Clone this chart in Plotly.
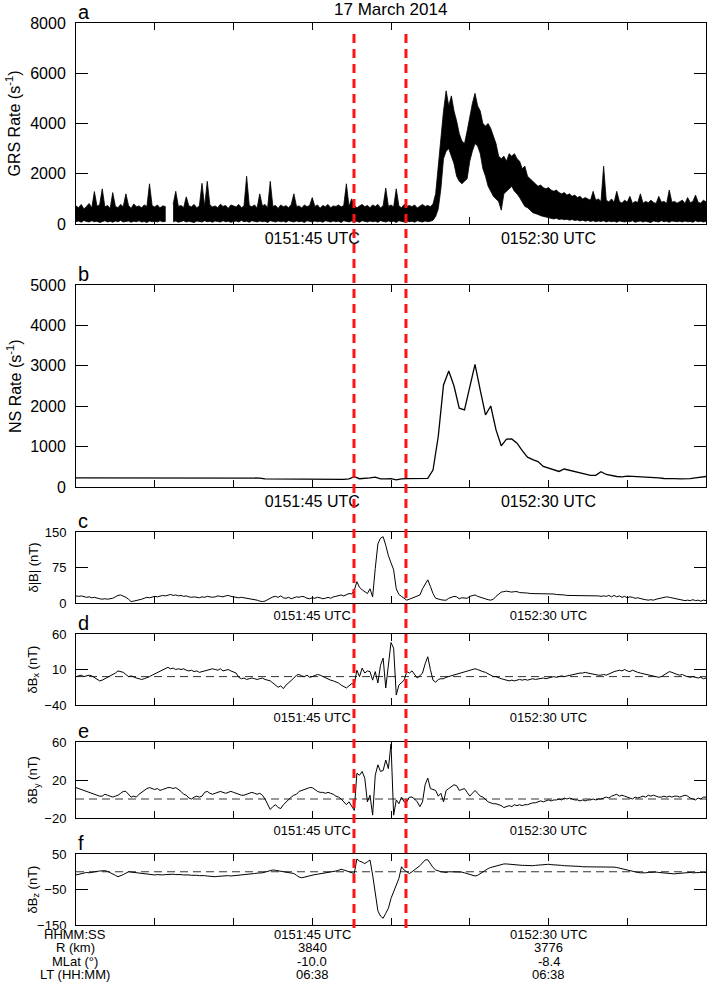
import numpy as np
import plotly.graph_objects as go

# time axis: seconds after 0151:00 UTC, 17 March 2014
GRS_STEP = 0.5   # s
NS_STEP = 1.0    # s
MAG_STEP = 0.5   # s

# GRS count rate: upper and lower edge of the dense (noisy) trace, per 0.5 s
grs_upper = [
    720, 650, 780, 600, 700, 820, 640, 1290, 710, 760,
    1400, 680, 740, 620, 1250, 700, 650, 780, 690, 1200,
    740, 620, 800, 690, 720, 650, 760, 700, 1600, 730,
    680, 760, 640, 720, 700, None, None, 780, 1300, 700,
    740, 650, 1080, 720, 690, 780, 640, 730, 1620, 700,
    1700, 760, 680, 720, 650, 790, 700, 740, 620, 760,
    710, 680, 780, 650, 720, 1900, 740, 690, 760, 640,
    1200, 720, 780, 650, 1700, 700, 740, 620, 760, 690,
    730, 650, 780, 1200, 700, 720, 640, 760, 690, 740,
    1050, 700, 760, 630, 740, 690, 780, 650, 720, 700,
    760, 680, 740, 1600, 700, 1000, 760, 640, 720, 780,
    690, 740, 650, 760, 700, 780, 640, 730, 1430, 700,
    760, 680, 1400, 720, 650, 780, 700, 740, 690, 760,
    640, 720, 780, 700, 740, 690, 800, 1200, 2300, 3600,
    4500, 5300, 4700, 5100, 4500, 4100, 3600, 3300, 3200, 3700,
    4300, 4800, 5200, 4700, 4500, 4000, 3900, 4000, 3800, 3500,
    3200, 2700, 2600, 2700, 2500, 2800, 2700, 2800, 2600, 2500,
    2200, 2300, 1900, 1800, 1700, 1600, 1500, 1550, 1450, 1400,
    1450, 1350, 1300, 1350, 1250, 1200, 1250, 1150, 1200, 1100,
    1150, 1050, 1100, 1000, 1050, 1000, 950, 1300, 950, 1000,
    900, 2300, 950, 880, 1000, 870, 1300, 900, 830, 950,
    870, 1100, 820, 900, 860, 1200, 830, 900, 850, 950,
    860, 820, 1100, 870, 900, 820, 1350, 870, 900, 830,
    880, 950, 820, 1050, 850, 900, 1150, 870, 830, 950,
    880,
]
grs_lower = [
    90, 120, 70, 140, 100, 80, 130, 90, 110, 60,
    100, 130, 80, 110, 70, 120, 90, 140, 80, 100,
    120, 70, 110, 90, 130, 80, 100, 60, 120, 90,
    110, 80, 130, 90, 100, None, None, 90, 120, 70,
    100, 130, 80, 110, 90, 60, 120, 100, 80, 130,
    90, 110, 70, 120, 100, 80, 130, 90, 110, 70,
    100, 120, 80, 140, 90, 110, 70, 130, 100, 80,
    120, 90, 110, 60, 130, 100, 80, 120, 90, 110,
    70, 130, 100, 80, 120, 90, 110, 60, 130, 100,
    80, 120, 90, 110, 70, 130, 100, 80, 120, 90,
    110, 60, 130, 100, 80, 120, 90, 110, 70, 130,
    100, 80, 120, 90, 110, 70, 130, 100, 80, 120,
    90, 110, 60, 130, 100, 80, 120, 90, 110, 70,
    130, 100, 80, 120, 90, 110, 150, 300, 600, 1400,
    2600, 2900, 3000, 2700, 2400, 1900, 1700, 1600, 1700, 1800,
    2500, 2900, 3200, 3100, 2800, 2200, 1900, 1500, 1300, 1100,
    1000, 900, 550, 1200, 1300, 1400, 1500, 1300, 1200, 1050,
    900, 700, 650, 550, 450, 400, 380, 330, 300, 280,
    250, 220, 200, 230, 180, 200, 170, 190, 150, 180,
    140, 160, 120, 150, 110, 140, 100, 130, 90, 120,
    100, 130, 80, 120, 90, 110, 70, 120, 100, 80,
    110, 90, 130, 70, 100, 120, 80, 110, 90, 60,
    120, 100, 80, 130, 90, 110, 70, 120, 100, 90,
    110, 80, 120, 90, 100, 70, 130, 90, 110, 80,
    100,
]

ns_rate = [
    228, 228, 229, 228, 228, 229, 228, 228, 228, 229,
    228, 228, 229, 229, 228, 228, 229, 228, 228, 229,
    229, 229, 228, 229, 229, 230, 229, 229, 230, 229,
    229, 230, 229, 229, 228, 222, 200, 198, 199, 197,
    200, 205, 198, 195, 198, 193, 190, 191, 190, 192,
    190, 188, 200, 255, 205, 210, 225, 245, 200, 200,
    205, 175, 200, 205, 205, 210, 212, 215, 420, 1250,
    2525, 2870, 2500, 1950, 1910, 2470, 3035, 2400, 1785, 2005,
    1415, 1020, 1185, 1190, 1085, 900, 740, 680, 630, 510,
    470, 430, 385, 445, 410, 380, 345, 310, 287, 290,
    378, 310, 280, 260, 250, 270, 262, 255, 250, 240,
    245, 225, 210, 215, 205, 200, 198, 205, 225, 240,
    260,
]

dB_total = [
    15, 14, 15, 13, 12, 13, 11, 12, 10, 9,
    8, 9, 8, 9, 10, 13, 16, 17, 15, 12,
    8, 3, 4, 5, 6, 8, 10, 12, 11, 13,
    14, 13, 15, 16, 15, 17, 18, 16, 17, 15,
    16, 14, 15, 13, 12, 13, 12, 11, 13, 12,
    14, 13, 12, 13, 15, 14, 13, 15, 16, 14,
    13, 12, 11, 12, 11, 11, 10, 9, 7, 6,
    4, 3, 4, 7, 10, 13, 14, 12, 15, 11,
    10, 12, 9, 11, 13, 12, 14, 13, 10, 9,
    11, 10, 12, 11, 9, 10, 12, 10, 13, 14,
    16, 17, 15, 18, 20, 19, 27, 45, 33, 28,
    24, 20, 30, 13, 73, 125, 137, 140, 122, 100,
    85, 70, 30, 18, 14, 10, 6, 8, 10, 12,
    14, 17, 30, 40, 49, 35, 20, 10, 8, 7,
    6, 6, 10, 12, 14, 13, 9, 11, 10, 10,
    14, 15, 17, 14, 12, 10, 8, 7, 6, 8,
    14, 19, 23, 24, 25, 24, 23, 24, 24, 22,
    22, 21, 21, 20, 20, 20, 19, 20, 20, 19,
    20, 19, 19, 18, 18, 17, 17, 16, 16, 16,
    15, 15, 15, 15, 15, 15, 15, 16, 15, 15,
    14, 15, 14, 16, 13, 16, 13, 15, 12, 14,
    11, 13, 12, 10, 11, 9, 8, 7, 6, 7,
    6, 8, 9, 11, 12, 13, 12, 11, 10, 8,
    7, 6, 5, 6, 5, 7, 5, 6, 4, 6,
    5,
]

dBx = [
    0, 1, 2, 0, 1, 2, 1, -1, -3, -6,
    -5, -3, -1, 0, 2, 5, 8, 7, 6, 3,
    0, 1, -1, -2, -3, -4, -3, -2, 0, 2,
    4, 6, 8, 10, 12, 13, 11, 12, 10, 11,
    10, 11, 9, 8, 9, 7, 8, 6, 7, 8,
    9, 10, 11, 10, 9, 11, 8, 9, 10, 8,
    7, 5, -1, -3, -2, -4, -3, -2, -3, -4,
    -3, -2, -4, -5, -6, -9, -12, -15, -13, -17,
    -12, -9, -6, -2, 2, 3, 1, 0, 2, -1,
    0, 1, 3, 2, 0, -1, -3, -5, -6, -7,
    -9, -12, -14, -16, -13, -10, -11, 9, 0, 12,
    5, 8, 7, -5, 7, -9, 16, 26, -16, 16,
    48, 40, -26, -12, -8, -5, 7, 5, 8, 3,
    -2, 1, 5, 18, 28, 10, -5, -8, -4, -3,
    -3, -1, 0, 2, 2, 3, 5, 6, 7, 8,
    9, 9, 11, 10, 8, 7, 6, 4, 2, 0,
    0, -2, -3, -4, -5, -6, -5, -6, -5, -4,
    -5, -4, -5, -4, -3, -4, -3, -2, -2, -3,
    -2, -1, 0, -1, 0, 1, 0, 1, 2, 3,
    3, 4, 5, 5, 6, 5, 4, 4, 3, 2,
    2, 3, 2, 4, 5, 7, 8, 9, 8, 10,
    8, 7, 9, 7, 6, 5, 4, 4, 3, 2,
    1, 0, -1, 0, 2, 5, 7, 6, 4, 3,
    2, 3, 1, 0, -1, 0, -1, -2, -1, -3,
    -2,
]

dBy = [
    12, 11, 10, 9, 8, 7, 6, 5, 4, 3,
    3, 5, 4, 3, 2, 3, 4, 6, 8, 8,
    5, 2, 3, 2, 5, 7, 9, 11, 12, 11,
    10, 11, 9, 10, 11, 12, 12, 11, 12, 10,
    8, 5, 4, 1, 0, 2, 3, 2, 3, 7,
    8, 6, 5, 6, 7, 8, 7, 6, 7, 8,
    7, 6, 5, 4, 4, 5, 6, 7, 6, 5,
    6, 4, 0, -5, -11, -8, -6, -9, -10, -6,
    -3, 0, 2, 4, 5, 8, 9, 10, 11, 12,
    12, 10, 8, 7, 7, 6, 7, 6, 5, 3,
    2, 0, -3, -6, -3, -8, -12, 27, 25, 29,
    22, -3, 4, -17, 25, 36, 29, 30, 41, 32,
    58, -17, -1, -5, 2, -3, -3, 2, 2, 0,
    -3, -8, -3, 15, 22, 11, 10, 9, 3, 6,
    -3, 9, 11, 13, 15, 14, 9, 10, 11, 7,
    3, 6, 9, 6, 3, 2, -1, -3, -4, -5,
    -5, -6, -7, -9, -8, -7, -8, -6, -7, -6,
    -7, -6, -6, -5, -4, -4, -3, -2, -3, -2,
    -1, -2, -1, -1, 0, -1, 1, 0, 1, 0,
    -1, -1, -2, -1, -2, -1, -1, 0, -1, 0,
    0, 1, 2, 1, 3, 4, 5, 3, 4, 3,
    2, 1, 0, 2, 1, 2, 3, 2, 4, 3,
    4, 3, 2, 2, 3, 2, 3, 2, 3, 3,
    2, 3, 4, 3, 1, 0, -1, 1, 0, 2,
    2,
]

dBz = [
    -9, -7, -5, -3, -2, -3, -1, 0, 1, 2,
    3, 3, 1, -2, -6, -10, -14, -12, -8, -4,
    0, -1, -2, -3, -4, -5, -5, -6, -7, -8,
    -9, -8, -9, -9, -8, -7, -8, -7, -8, -7,
    -8, -9, -8, -9, -10, -9, -10, -11, -10, -11,
    -12, -13, -12, -14, -13, -12, -13, -12, -11, -12,
    -11, -12, -11, -10, -9, -8, -7, -6, -5, -4,
    -4, -3, -1, 1, 3, 5, 4, 3, 2, 0,
    -1, -2, -2, -5, -10, -15, -17, -15, -12, -10,
    -9, -8, -7, -6, -5, -3, -2, -1, 0, 2,
    4, 7, 5, 2, 0, -3, -5, 36, 30, 27,
    23, 28, 33, -9, -56, -110, -125, -131, -117, -103,
    -75, -56, -33, -19, 14, 5, 0, -5, 0, 5,
    10, 17, 25, 33, 34, 23, 12, 5, 2, 0,
    -1, -2, 0, 0, -1, 1, 0, -1, -3, -5,
    -8, -10, -12, -10, -5, 0, 5, 9, 12, 14,
    17, 19, 21, 22, 22, 21, 20, 19, 19, 18,
    18, 18, 17, 17, 17, 18, 19, 20, 20, 21,
    21, 20, 20, 19, 18, 18, 17, 17, 17, 16,
    16, 15, 15, 14, 14, 14, 14, 15, 14, 14,
    14, 13, 14, 14, 15, 13, 12, 10, 8, 7,
    6, 3, 1, -1, -2, -3, -4, -3, -2, -1,
    0, -1, -2, -3, -4, -5, -6, -7, -6, -5,
    -4, -3, -4, -3, -2, -3, -2, -3, -2, -2,
    -2,
]

event_times = [52.95, 62.85]
tick_times = [15, 30, 45, 60, 75, 90, 105]
tick_text = ["", "", "0151:45 UTC", "", "", "0152:30 UTC", ""]

table_labels = ["HHMM:SS", "R (km)", "MLat (\u00b0)", "LT (HH:MM)"]
table_col_0151_45 = ["0151:45 UTC", "3840", "-10.0", "06:38"]
table_col_0152_30 = ["0152:30 UTC", "3776", "-8.4", "06:38"]

assert len(grs_upper) == 241 and len(grs_lower) == 241 and len(ns_rate) == 121
assert all(len(s) == 241 for s in (dB_total, dBx, dBy, dBz))

t_grs = np.arange(len(grs_upper)) * GRS_STEP
t_ns = np.arange(len(ns_rate)) * NS_STEP
t_mag = np.arange(len(dBx)) * MAG_STEP

# GRS band as closed outline(s): upper edge forward, lower edge back, one per data run
runs, cur = [], []
for i, v in enumerate(grs_upper):
    if v is None:
        if cur:
            runs.append(cur)
        cur = []
    else:
        cur.append(i)
if cur:
    runs.append(cur)
grs_x, grs_y = [], []
for run in runs:
    grs_x += [t_grs[i] for i in run] + [t_grs[i] for i in reversed(run)] + [None]
    grs_y += [grs_upper[i] for i in run] + [grs_lower[i] for i in reversed(run)] + [None]

W, H = 709, 984
FONT = "Liberation Sans, Arial, Helvetica, sans-serif"
xdom = [76 / W, 706 / W]

# letter, x data, y data, y title, y range, y ticks, pixel top/bottom, big fonts, zero line
panels = [
    ("a", grs_x, grs_y, "GRS Rate (s<sup>-1</sup>)", [0, 8000], [0, 2000, 4000, 6000, 8000], 23, 224, True, False),
    ("b", t_ns, ns_rate, "NS Rate (s<sup>-1</sup>)", [0, 5000], [0, 1000, 2000, 3000, 4000, 5000], 285, 487, True, False),
    ("c", t_mag, dB_total, "\u03b4|B| (nT)", [0, 150], [0, 75, 150], 532, 603, False, False),
    ("d", t_mag, dBx, "\u03b4B<sub>x</sub> (nT)", [-40, 60], [-40, 10, 60], 634, 705, False, True),
    ("e", t_mag, dBy, "\u03b4B<sub>y</sub> (nT)", [-20, 60], [-20, 20, 60], 742, 818, False, True),
    ("f", t_mag, dBz, "\u03b4B<sub>z</sub> (nT)", [-150, 50], [-150, -50, 50], 854, 925, False, True),
]

fig = go.Figure()
layout = {}
shapes = []
annotations = []

for i, (letter, xx, yy, ytitle, yr, yt, top, bot, big, zero) in enumerate(panels):
    n = "" if i == 0 else str(i + 1)
    if letter == "a":
        fig.add_trace(go.Scatter(
            x=xx, y=yy, mode="lines", xaxis="x", yaxis="y",
            fill="toself", fillcolor="black",
            line=dict(color="black", width=0.8),
            showlegend=False, hoverinfo="skip",
        ))
    else:
        fig.add_trace(go.Scatter(
            x=xx, y=yy, mode="lines", xaxis="x" + n, yaxis="y" + n,
            line=dict(color="black", width=1.3 if letter == "b" else 1),
            showlegend=False, hoverinfo="skip",
        ))
    ydom = [1 - bot / H, 1 - top / H]
    fs = 16 if big else 13
    layout["xaxis" + n] = dict(
        domain=xdom, range=[0, 120], anchor="y" + n, automargin=False,
        tickvals=tick_times, ticktext=tick_text,
        showticklabels=(letter != "f"),
        ticks="inside", ticklen=7, tickwidth=1, tickcolor="black",
        mirror="ticks", showline=True, linecolor="black", linewidth=1,
        showgrid=False, zeroline=False,
        tickfont=dict(family=FONT, size=fs, color="black"),
    )
    layout["yaxis" + n] = dict(
        domain=ydom, range=yr, anchor="x" + n, tickvals=yt, automargin=False,
        ticks="inside", ticklen=12, tickwidth=1, tickcolor="black",
        mirror="ticks", showline=True, linecolor="black", linewidth=1,
        showgrid=False, zeroline=False, ticklabelstandoff=6,
        tickfont=dict(family=FONT, size=fs, color="black"),
    )
    if zero:
        shapes.append(dict(type="line", xref="x" + n, yref="y" + n,
                           x0=0, x1=120, y0=0, y1=0, layer="below",
                           line=dict(color="#333333", width=1, dash="8px,5px")))
    # panel letter
    annotations.append(dict(text=letter, x=76 / W, y=1 - (top - 11) / H,
                            xref="paper", yref="paper", xanchor="left", yanchor="middle",
                            showarrow=False, font=dict(family=FONT, size=20, color="black")))
    # y title
    annotations.append(dict(text=ytitle, x=(14 if big else 33) / W, y=1 - (top + bot) / 2 / H,
                            xref="paper", yref="paper", xanchor="center", yanchor="middle",
                            textangle=-90, showarrow=False,
                            font=dict(family=FONT, size=16 if big else 13, color="black")))

# red dashed event markers spanning all panels
for te in event_times:
    shapes.append(dict(type="line", xref="x", yref="paper", x0=te, x1=te,
                       y0=1 - 928 / H, y1=1 - 28 / H, layer="above",
                       line=dict(color="#ff1414", width=3, dash="9px,6px")))

annotations.append(dict(text="17 March 2014", x=390 / W, y=1 - 10 / H, xref="paper", yref="paper",
                        xanchor="center", yanchor="middle", showarrow=False,
                        font=dict(family=FONT, size=17, color="black")))

# orbit table below the last panel
row_y = [934, 947.5, 961, 974]
for k, yy in enumerate(row_y):
    annotations.append(dict(text=table_labels[k], x=75 / W, y=1 - yy / H, xref="paper", yref="paper",
                            xanchor="center", yanchor="middle", showarrow=False,
                            font=dict(family=FONT, size=13, color="black")))
    for tcol, col in ((45, table_col_0151_45), (90, table_col_0152_30)):
        annotations.append(dict(text=col[k], x=tcol, y=1 - yy / H, xref="x6", yref="paper",
                                xanchor="center", yanchor="middle", showarrow=False,
                                font=dict(family=FONT, size=13, color="black")))

fig.update_layout(
    width=W, height=H, autosize=False,
    margin=dict(l=0, r=0, t=0, b=0, autoexpand=False),
    paper_bgcolor="white", plot_bgcolor="white",
    font=dict(family=FONT, color="black"),
    shapes=shapes, annotations=annotations,
    **layout,
)

# figure is exactly the window size, so drop the page's default body margin
fig.write_html("out.html", config={"displayModeBar": False},
               post_script="document.body.style.margin = '0px';")
